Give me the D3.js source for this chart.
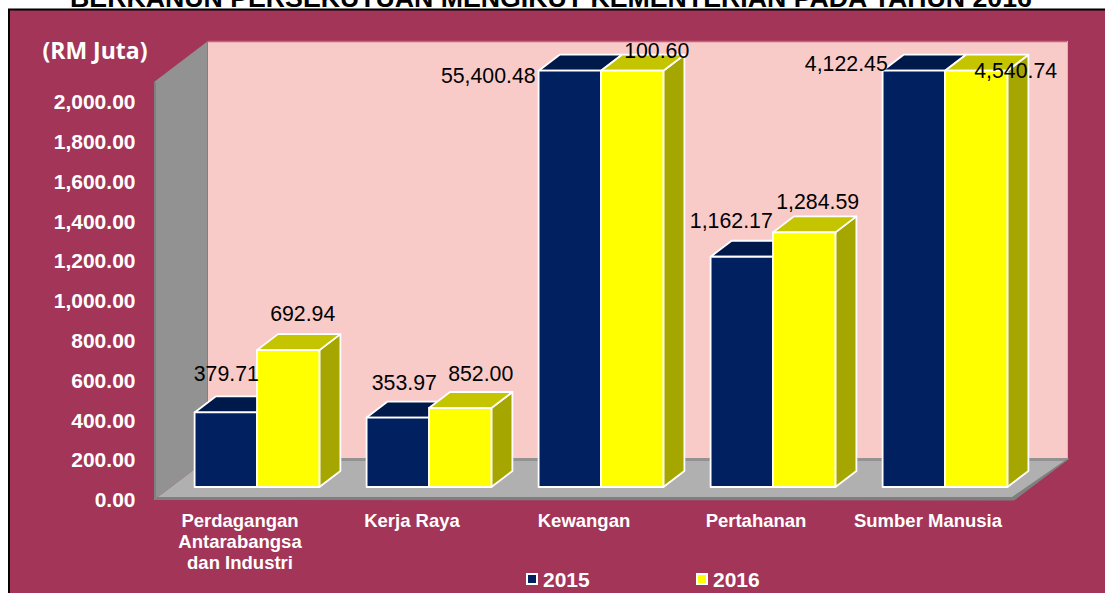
<!DOCTYPE html>
<html>
<head>
<meta charset="utf-8">
<script src="https://cdn.jsdelivr.net/npm/d3@7/dist/d3.min.js"></script>
<style>
html,body{margin:0;padding:0;background:#fff;overflow:hidden}
svg{display:block}
text{font-family:"Liberation Sans",Arial,sans-serif}
</style>
</head>
<body>
<svg id="c" width="1105" height="593"></svg>
<script>
const titleText = "BERKANUN PERSEKUTUAN MENGIKUT KEMENTERIAN PADA TAHUN 2016";
const unitLabel = "(RM Juta)";
const categories = ["Perdagangan Antarabangsa dan Industri", "Kerja Raya", "Kewangan", "Pertahanan", "Sumber Manusia"];
const seriesNames = ["2015", "2016"];
// Bar heights (bars beyond the axis maximum are cut off by it)
const values2015 = [379.71, 353.97, 55400.48, 1162.17, 4122.45];
const values2016 = [692.94, 402, 57100.60, 1284.59, 4540.74];
// Printed labels, as they appear in the picture
const labels2015 = ["379.71", "353.97", "55,400.48", "1,162.17", "4,122.45"];
const labels2016 = ["692.94", "852.00", "100.60", "1,284.59", "4,540.74"];
const yTicks = [0, 200, 400, 600, 800, 1000, 1200, 1400, 1600, 1800, 2000];
const axisMax = 2097;

// Hand-placed label nudges from the default spot above each bar
const nudge2015 = [[-10,-3],[-4,1],[-92,41],[-21,0],[-78,29]];
const nudge2016 = [[4,-1],[10,1],[14,16],[3,5],[29,36]];

const svg = d3.select("#c");
const plot = {left:154, right:1014, bottom:500, wallTop:82, axisTop:82.7, backDx:54, backDy:41, barDx:17, barDy:13, barTopDy:12, depthDx:21, depthDy:16};
const colors = {
  bg:"#A33558", wall:"#F9CBC8", side:"#929292", sideEdge:"#808080", floor:"#B0B0B0", floorEdge:"#7F7F7F",
  navy:"#002060", navyTop:"#00194B", navySide:"#001540", yellow:"#FFFF00", yellowTop:"#C4C400", yellowSide:"#A6A600"
};

const y = d3.scaleLinear().domain([0, axisMax]).range([plot.bottom, plot.axisTop]).clamp(true);
const x0 = d3.scaleBand().domain(categories).range([plot.left, plot.right]).padding(0);
const bandInner = 0.7255;
const x1 = d3.scaleBand().domain(seriesNames).range([0, x0.bandwidth()*bandInner]).padding(0);
const barOffset = (x0.bandwidth() - x1.range()[1]) / 2;

// Title and frame
svg.append("text").attr("x", 551).attr("y", 7).attr("text-anchor","middle")
  .attr("font-size", 26.7).attr("font-weight","bold").attr("fill","#000").text(titleText);
svg.append("rect").attr("x",9).attr("y",9.5).attr("width",1110).attr("height",600)
  .attr("fill",colors.bg).attr("stroke","#000").attr("stroke-width",2);

const poly = (pts, fill, stroke) => svg.append("polygon").attr("points", pts.map(p=>p.join(",")).join(" "))
  .attr("fill",fill).attr("stroke",stroke||"none");

const L=plot.left,R=plot.right,B=plot.bottom,T=plot.wallTop,DX=plot.backDx,DY=plot.backDy;
// Back wall
poly([[L+DX,T-DY+1],[R+DX,T-DY+1],[R+DX,B-DY],[L+DX,B-DY]], colors.wall);
svg.append("line").attr("x1",L+DX).attr("x2",R+DX).attr("y1",T-DY+0.5).attr("y2",T-DY+0.5).attr("stroke","#C4637C").attr("stroke-width",1.5);
svg.append("line").attr("x1",R+DX-0.5).attr("x2",R+DX-0.5).attr("y1",T-DY).attr("y2",B-DY).attr("stroke","#E8B0B4").attr("stroke-width",1);
// Side wall
poly([[L,T],[L+DX,T-DY],[L+DX,B-DY],[L,B]], colors.side);
svg.append("line").attr("x1",L+1).attr("x2",L+1).attr("y1",T).attr("y2",B).attr("stroke",colors.sideEdge).attr("stroke-width",2);
svg.append("line").attr("x1",L+DX-0.5).attr("x2",L+DX-0.5).attr("y1",T-DY).attr("y2",B-DY).attr("stroke",colors.sideEdge).attr("stroke-width",1);
// Floor
poly([[L,B],[L+DX,B-DY],[R+DX,B-DY],[R,B]], colors.floor);
poly([[L+DX,B-DY-1],[R+DX+1,B-DY-1],[R+DX-2,B-DY+2],[L+DX,B-DY+2]], colors.side);
poly([[L,B],[L+3,B-3],[R-2,B-3],[R+DX-1,B-DY],[R+DX+1,B-DY],[R,B+0.5]], colors.floorEdge);

// Bars
const series = [
  {name:seriesNames[0], values:values2015, labels:labels2015, nudge:nudge2015, face:colors.navy, top:colors.navyTop, side:colors.navySide},
  {name:seriesNames[1], values:values2016, labels:labels2016, nudge:nudge2016, face:colors.yellow, top:colors.yellowTop, side:colors.yellowSide}
];
const base = y(0) - plot.barDy;
const dx = plot.depthDx, dy = plot.depthDy;
const barX = (cat, s) => x0(cat) + barOffset + plot.barDx + x1(s.name);
const w = x1.bandwidth();

categories.forEach((cat,i) => {
  series.forEach(s => {
    const xx = barX(cat,s), top = y(s.values[i]) - plot.barTopDy;
    const g = svg.append("g").attr("stroke","#fff").attr("stroke-width",1.8).attr("stroke-linejoin","round");
    const P = (pts,f)=>g.append("polygon").attr("points",pts.map(p=>p.join(",")).join(" ")).attr("fill",f);
    P([[xx+w,top],[xx+w+dx,top-dy],[xx+w+dx,base-dy],[xx+w,base]], s.side);
    P([[xx,top],[xx+dx,top-dy],[xx+w+dx,top-dy],[xx+w,top]], s.top);
    P([[xx,top],[xx+w,top],[xx+w,base],[xx,base]], s.face);
  });
});

// Value labels
categories.forEach((cat,i) => {
  series.forEach(s => {
    const cx = barX(cat,s) + w/2 + dx/2, top = y(s.values[i]) - plot.barTopDy;
    svg.append("text").attr("x", cx + s.nudge[i][0]).attr("y", top - 36 + s.nudge[i][1] + 7.5)
      .attr("text-anchor","middle").attr("font-size",21.3).attr("fill","#000").text(s.labels[i]);
  });
});

// Value axis
const yAxis = d3.axisLeft(y).tickValues(yTicks).tickFormat(d3.format(",.2f")).tickSize(0).tickPadding(0);
const gy = svg.append("g").attr("transform","translate(135.5,0)").call(yAxis);
gy.select(".domain").remove();
gy.selectAll("text").attr("font-size",21).attr("font-weight","bold").attr("fill","#fff")
  .attr("font-family",'"Liberation Sans",Arial,sans-serif');

svg.append("text").attr("x",95).attr("y",59).attr("text-anchor","middle")
  .attr("font-size",23).attr("font-weight","bold").attr("fill","#fff")
  .style("font-family",'"Open Sans",sans-serif').text(unitLabel);

// Category axis
const xAxis = d3.axisBottom(x0).tickSize(0).tickPadding(0);
const gx = svg.append("g").attr("transform","translate(0,514)").call(xAxis);
gx.select(".domain").remove();
gx.selectAll("text").attr("font-size",18.5).attr("font-weight","bold").attr("fill","#fff")
  .attr("font-family",'"Liberation Sans",Arial,sans-serif')
  .each(function(){
    const t = d3.select(this), words = t.text().split(" ");
    t.text(null);
    let line=[], ts=t.append("tspan").attr("x",0).attr("dy","0.71em");
    words.forEach(wd=>{
      line.push(wd); ts.text(line.join(" "));
      if(ts.node().getComputedTextLength()>155 && line.length>1){
        line.pop(); ts.text(line.join(" "));
        line=[wd];
        ts=t.append("tspan").attr("x",0).attr("dy","21px").text(wd);
      }
    });
  });

// Legend
const legendX = [527, 697];
seriesNames.forEach((name,i)=>{
  svg.append("rect").attr("x",legendX[i]).attr("y",574).attr("width",10).attr("height",10)
    .attr("fill",series[i].face).attr("stroke","#fff").attr("stroke-width",2);
  svg.append("text").attr("x",legendX[i]+16).attr("y",587).attr("font-size",21).attr("font-weight","bold")
    .attr("fill","#fff").text(name);
});
</script>
</body>
</html>
